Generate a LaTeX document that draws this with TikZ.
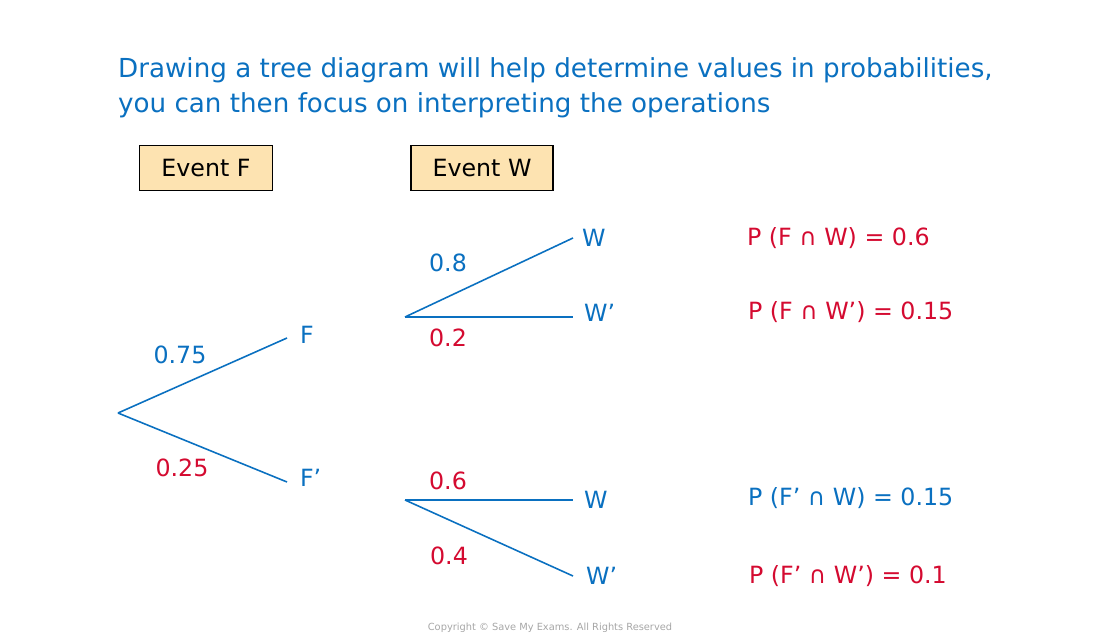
\documentclass[tikz,border=0pt]{standalone}
\usepackage{fontspec}
\setmainfont{DejaVu Sans}
\usepackage{tikz}
\usetikzlibrary{positioning}
\definecolor{smblue}{HTML}{0A70C0}
\definecolor{smred}{HTML}{D40A30}
\definecolor{boxfill}{HTML}{FDE3B1}

\tikzset{
	branch/.style={smblue,line width=0.9pt},
	eventbox/.style={draw=black,fill=boxfill,line width=0.9pt,minimum height=0.9cm,font=\fontsize{13.5}{15}\selectfont},
	lbl/.style={font=\fontsize{13.5}{15}\selectfont,inner sep=1pt},
	res/.style={font=\fontsize{13.5}{15}\selectfont,inner sep=1pt,anchor=west}
}

\begin{document}
\begin{tikzpicture}[x=0.02cm,y=-0.02cm]
\useasboundingbox (0,0) rectangle (1100,635);

% heading
\node[smblue,inner sep=1pt,anchor=west,align=left,font=\fontsize{14.9}{20}\selectfont] (head) at (116,88) {Drawing a tree diagram will help determine values in probabilities,\\you can then focus on interpreting the operations};

\node[eventbox,minimum width=2.66cm] (evF) at (206,168) {Event F};
\node[eventbox,minimum width=2.84cm] (evW) at (482,168) {Event W};

% first stage
\coordinate (root) at (118,413);
\coordinate (fend) at (287,338);
\coordinate (fpend) at (287,482);
\node[lbl,smblue,anchor=west] (F) at (298,335) {F};
\node[lbl,smblue,anchor=west] (Fp) at (298,478) {F’};
\draw[branch] (root) -- (fend);
\draw[branch] (root) -- (fpend);
\node[lbl,smblue] (p1) at (180,355) {0.75};
\node[lbl,smred] (p2) at (182,468) {0.25};

% second stage, after F
\coordinate (rootA) at (405,317);
\coordinate (wA) at (573,238);
\coordinate (wpA) at (573,317);
\node[lbl,smblue,anchor=west] (W1) at (580,238) {W};
\node[lbl,smblue,anchor=west] (Wp1) at (582,313) {W’};
\draw[branch] (rootA) -- (wA);
\draw[branch] (rootA) -- (wpA);
\node[lbl,smblue] (p3) at (448,263) {0.8};
\node[lbl,smred] (p4) at (448,338) {0.2};

% second stage, after F'
\coordinate (rootB) at (405,500);
\coordinate (wB) at (573,500);
\coordinate (wpB) at (573,576);
\node[lbl,smblue,anchor=west] (W2) at (582,500) {W};
\node[lbl,smblue,anchor=west] (Wp2) at (584,576) {W’};
\draw[branch] (rootB) -- (wB);
\draw[branch] (rootB) -- (wpB);
\node[lbl,smred] (p5) at (448,481) {0.6};
\node[lbl,smred] (p6) at (449,556) {0.4};

% results
\node[res,smred] (r1) at (745,238) {P (F ∩ W) = 0.6};
\node[res,smred] (r2) at (746,312) {P (F ∩ W’) = 0.15};
\node[res,smblue] (r3) at (746,498) {P (F’ ∩ W) = 0.15};
\node[res,smred] (r4) at (747,576) {P (F’ ∩ W’) = 0.1};

\node[font=\fontsize{5.6}{7}\selectfont,gray!70] (copy) at (550,628) {Copyright © Save My Exams. All Rights Reserved};
\end{tikzpicture}
\end{document}
